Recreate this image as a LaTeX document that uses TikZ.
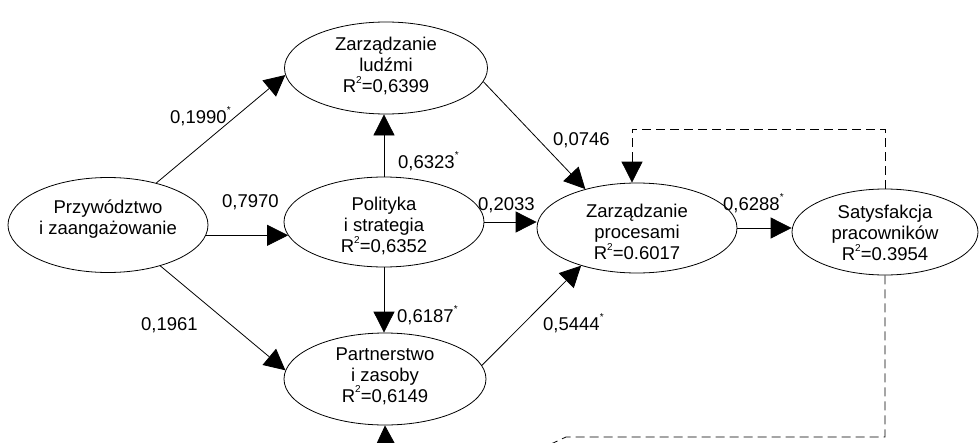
\documentclass[tikz,border=0pt]{standalone}
\usepackage{fontspec}
\setmainfont{Liberation Sans}
\usetikzlibrary{shapes.geometric,arrows.meta}
\newcommand\myss[1]{\raisebox{0.5em}{\fontsize{10}{10}\selectfont #1}}
\begin{document}
\begin{tikzpicture}[x=1pt,y=-1pt,
  lat/.style={ellipse,draw,line width=0.8pt,inner sep=0pt},
  txt/.style={align=center,font=\fontsize{18.5}{21}\selectfont,inner sep=0pt},
  lbl/.style={anchor=base west,font=\fontsize{18.5}{21}\selectfont,inner sep=0pt},
  conn/.style={line width=0.8pt,-{Triangle[length=21pt,width=21pt]}},
  dashconn/.style={line width=0.8pt,dash pattern=on 9pt off 5pt}
]
\useasboundingbox (0,0) rectangle (980,442);
\clip (0,0) rectangle (980,442);

% latent variables
\node[lat,minimum width=200pt,minimum height=95pt] (P)  at (108,225) {};
\node[lat,minimum width=203pt,minimum height=92pt] (ZL) at (386,68) {};
\node[lat,minimum width=200pt,minimum height=90pt] (PS) at (384,222) {};
\node[lat,minimum width=202pt,minimum height=92pt] (PZ) at (385,379) {};
\node[lat,minimum width=200pt,minimum height=90pt] (ZP) at (637,228) {};
\node[lat,minimum width=186pt,minimum height=86pt] (S)  at (885,232) {};

\node[txt] (Pt)  at (108,219) {Przywództwo\\i zaangażowanie};
\node[txt] (ZLt) at (386,66)  {Zarządzanie\\ludźmi\\R\myss{2}=0,6399};
\node[txt] (PSt) at (384,226) {Polityka\\i strategia\\R\myss{2}=0,6352};
\node[txt] (PZt) at (385,376) {Partnerstwo\\i zasoby\\R\myss{2}=0,6149};
\node[txt] (ZPt) at (637,232) {Zarządzanie\\procesami\\R\myss{2}=0.6017};
\node[txt] (St)  at (885,233) {Satysfakcja\\pracowników\\R\myss{2}=0.3954};

% structural paths
\draw[conn] (P.41) -- (ZL.184);
\draw[conn] (PS.north) -- (PS.north |- ZL.south);
\draw[conn] (P.-6) -- (PS.188 |- P.-6);
\draw[conn] (P.-38) -- (PZ.175);
\draw[conn] (PS.south) -- (PS.south |- PZ.north);
\draw[conn] (PS.east) -- (PS.east -| ZP.west);
\draw[conn] (ZL.-8) -- (ZP.143);
\draw[conn] (PZ.8) -- (ZP.214);
\draw[conn] (ZP.east) -- (ZP.east -| S.west);

% dashed feedback
\coordinate (dtop) at (632,129);
\coordinate (dbot) at (566,437);
\coordinate (dend) at (388,520);
\draw[dashconn] (S.north) |- (dtop) -- ([yshift=22pt]dtop |- ZP.north);
\draw[conn] ([yshift=22pt]dtop |- ZP.north) -- (dtop |- ZP.north);
\draw[dashconn] (S.south) |- (dbot) -- (dend);
\draw[conn] (dend) -- (PZ.south);

% coefficients
\node[lbl] (l1) at (170,123) {0,1990\myss{*}};
\node[lbl] (l2) at (398,168) {0,6323\myss{*}};
\node[lbl] (l3) at (222,207) {0,7970};
\node[lbl] (l4) at (478,210) {0,2033};
\node[lbl] (l5) at (553,145) {0,0746};
\node[lbl] (l6) at (723,210) {0,6288\myss{*}};
\node[lbl] (l7) at (543,330) {0,5444\myss{*}};
\node[lbl] (l8) at (141,330) {0,1961};
\node[lbl] (l9) at (397,322) {0,6187\myss{*}};
\end{tikzpicture}
\end{document}
